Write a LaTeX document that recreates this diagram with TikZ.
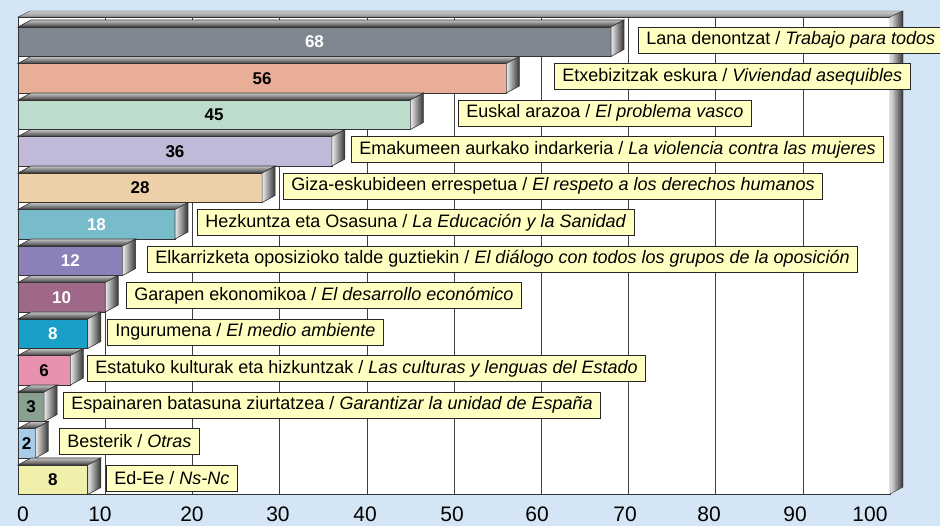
\documentclass[tikz,border=0pt]{standalone}
\usepackage{fontspec}
\setmainfont{Liberation Sans}
\usepackage{tikz}
\definecolor{bgblue}{RGB}{212, 230, 245}
\definecolor{labelfill}{RGB}{255, 255, 194}
\definecolor{color1}{RGB}{127, 136, 144}
\definecolor{color2}{RGB}{232, 174, 152}
\definecolor{color3}{RGB}{190, 220, 204}
\definecolor{color4}{RGB}{192, 186, 216}
\definecolor{color5}{RGB}{238, 208, 168}
\definecolor{color6}{RGB}{120, 188, 204}
\definecolor{color7}{RGB}{140, 128, 184}
\definecolor{color8}{RGB}{160, 104, 136}
\definecolor{color9}{RGB}{24, 160, 200}
\definecolor{color10}{RGB}{232, 144, 176}
\definecolor{color11}{RGB}{136, 160, 144}
\definecolor{color12}{RGB}{168, 204, 232}
\definecolor{color13}{RGB}{240, 240, 170}

\begin{document}
\begin{tikzpicture}[x=1pt, y=-1pt,
		barfront/.style={draw=black!80, line width=0.6pt},
		topface/.style={draw=black!80, line width=0.6pt, top color=gray!45, bottom color=black!75},
		endface/.style={draw=black!80, line width=0.6pt, left color=gray!15, right color=black!80},
		labelbox/.style={draw=black!85, fill=labelfill, line width=0.7pt, inner xsep=8pt, minimum height=26pt, anchor=west, font=\fontsize{18}{20}\selectfont},
		valtext/.style={font=\fontsize{17}{19}\selectfont\bfseries},
		ticklabel/.style={font=\fontsize{21}{23}\selectfont, inner sep=0pt, anchor=base}]
		\fill[bgblue] (0,0) rectangle (940,526);
		\useasboundingbox (0,0) rectangle (940,526);
		% plot area and walls
		\filldraw[fill=white, draw=black!80, line width=0.7pt] (18,17) rectangle (890,494);
		\foreach \g in {10,20,...,90}
			\draw[black!75] ({18+8.72*\g},17) -- ({18+8.72*\g},494);
		\shade[top color=gray!40, bottom color=gray!85, draw=black!80] (18,17) -- (30,11) -- (903,11) -- (890,17) -- cycle;
		\shade[left color=gray!20, right color=black!80, draw=black!80] (890,17) -- (903,11) -- (903,487) -- (890,494) -- cycle;
		% bars with their labels
		\foreach \v/\tc/\lx/\eu/\es [count=\i] in {
				68/white/638/Lana denontzat/Trabajo para todos,
				56/black/554/Etxebizitzak eskura/Viviendad asequibles,
				45/black/458/Euskal arazoa/El problema vasco,
				36/black/351/Emakumeen aurkako indarkeria/La violencia contra las mujeres,
				28/black/283/Giza-eskubideen errespetua/El respeto a los derechos humanos,
				18/white/197/Hezkuntza eta Osasuna/La Educación y la Sanidad,
				12/white/147/Elkarrizketa oposizioko talde guztiekin/El diálogo con todos los grupos de la oposición,
				10/white/126/Garapen ekonomikoa/El desarrollo económico,
				8/white/107/Ingurumena/El medio ambiente,
				6/black/87/Estatuko kulturak eta hizkuntzak/Las culturas y lenguas del Estado,
				3/black/63/Espainaren batasuna ziurtatzea/Garantizar la unidad de España,
				2/black/59/Besterik/Otras,
				8/black/106/Ed-Ee/Ns-Nc}
		{
			\pgfmathsetmacro\yt{27+36.5*(\i-1)}
			\pgfmathsetmacro\xe{18+8.72*\v}
			\filldraw[fill=color\i, barfront] (18,\yt) rectangle (\xe,{\yt+29.5});
			\shade[topface] (18,\yt) -- (31,{\yt-7}) -- ({\xe+13},{\yt-7}) -- (\xe,\yt) -- cycle;
			\shade[endface] (\xe,\yt) -- ({\xe+13},{\yt-7}) -- ({\xe+13},{\yt+22.5}) -- (\xe,{\yt+29.5}) -- cycle;
			\node[valtext, text=\tc] (val\i) at ({(18+\xe)/2},{\yt+15}) {\v};
			\node[labelbox] (lab\i) at (\lx,{\yt+13}) {\eu{} / \textit{\es}};
		}
		% axis numbers
		\foreach \t/\tx in {0/23,10/100,20/192,30/278,40/365,50/452,60/537,70/625,80/709,90/795,100/870}
			\node[ticklabel] (tick\t) at (\tx,521) {\t};
	\end{tikzpicture}
\end{document}
